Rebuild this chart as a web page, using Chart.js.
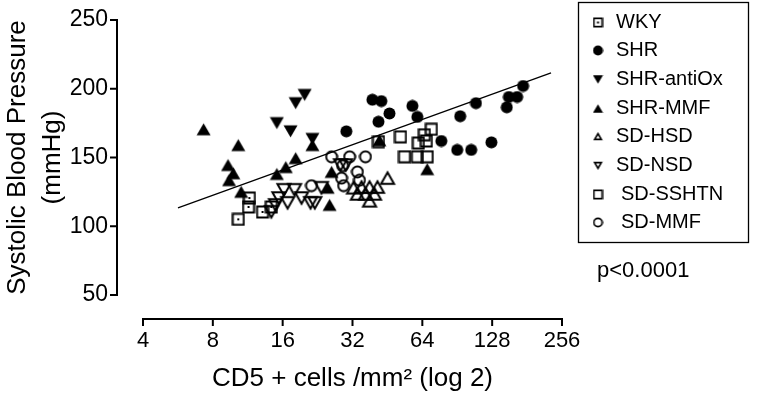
<!DOCTYPE html>
<html>
<head>
<meta charset="utf-8">
<script src="https://cdn.jsdelivr.net/npm/chart.js@4.4.1/dist/chart.umd.min.js"></script>
<style>
  html, body { margin: 0; padding: 0; background: #fff; }
  #wrap { width: 760px; height: 400px; }
</style>
</head>
<body>
<div id="wrap"><canvas id="chart" width="760" height="400"></canvas></div>
<script>
// groups, in legend order
const groups = ['WKY', 'SHR', 'SHR-antiOx', 'SHR-MMF', 'SD-HSD', 'SD-NSD', 'SD-SSHTN', 'SD-MMF'];

// CD5+ cells/mm2 (x) and systolic BP in mmHg (y) per group
const wkyX = [10.3, 11.5, 11.4, 13.1, 14.3];
const wkyY = [105, 120.5, 114, 110.4, 114];

const shrX = [30.1, 39.0, 42.6, 46.2, 41.4, 58.0, 60.9, 77.3, 93.2, 109, 90.5, 104, 127, 148, 151, 164, 174];
const shrY = [169, 192, 191, 182, 176, 187.5, 179.5, 162, 180, 189.5, 155.5, 155.5, 161, 186.5, 194, 194, 202];

const antiOxX = [15.1, 17.3, 18.2, 19.9, 21.5];
const antiOxY = [175, 169, 189.5, 195.5, 163.5];

const shrMmfX = [7.3, 10.3, 9.3, 9.8, 9.4, 10.6, 15.1, 16.5, 18.2, 21.5, 26.0, 25.0, 25.5, 41.8, 67.2];
const shrMmfY = [170.5, 159, 144.5, 138.5, 133.5, 125, 138, 143, 149.5, 159, 139.5, 128, 115.5, 162.5, 141.5];

const hsdX = [45.3, 41.0, 37.9, 35.0, 32.3, 33.6, 36.4, 39.8, 37.9];
const hsdY = [135, 128.5, 128.5, 128.5, 128, 123.5, 123.5, 123.5, 118.5];

const nsdX = [14.3, 14.9, 15.4, 16.2, 16.8, 18.0, 19.3, 21.1, 22.0, 23.5, 28.4, 29.9];
const nsdY = [110.5, 115.5, 120.5, 126.5, 117, 126.5, 120.5, 117, 117, 128, 144.5, 144.5];

const sshtnX = [41.4, 51.5, 53.6, 60.9, 67.2, 61.5, 66.6, 65.3, 70.0];
const sshtnY = [161.5, 165, 150.5, 150.5, 150.5, 160.5, 162, 166.5, 170.5];

const sdMmfX = [26.0, 31.1, 36.4, 29.0, 33.6, 28.7, 29.3, 34.3, 21.3];
const sdMmfY = [150.5, 150.5, 150.5, 144, 139.5, 135, 129.5, 133.5, 129.5];

// fitted line end points
const fitX = [5.66, 229.6];
const fitY = [113.3, 211.5];

const xTicks = [4, 8, 16, 32, 64, 128, 256];
const yTicks = [50, 100, 150, 200, 250];
const pValue = 'p<0.0001';

const FONT = "'Liberation Sans', Arial, sans-serif";

// marker glyphs drawn into small canvases
function makeMarker(kind, n) {
    const c = document.createElement('canvas');
    c.width = n; c.height = n;
    const g = c.getContext('2d');
    g.fillStyle = '#000';
    g.strokeStyle = '#000';
    g.lineWidth = n > 11 ? 2 : 1.7;
    const m = g.lineWidth;
    const tri = (up, inset) => {
        const w = n - 2 * inset, h = w * 0.87, top = (n - h) / 2;
        g.beginPath();
        if (up) { g.moveTo(n / 2, top); g.lineTo(n - inset, top + h); g.lineTo(inset, top + h); }
        else { g.moveTo(n / 2, top + h); g.lineTo(n - inset, top); g.lineTo(inset, top); }
        g.closePath();
    };
    switch (kind) {
        case 'squareDot':
            g.strokeRect(m / 2 + 0.5, m / 2 + 0.5, n - m - 1, n - m - 1);
            g.fillRect(n / 2 - 1, n / 2 - 1, 2, 2);
            break;
        case 'square':
            g.strokeRect(m / 2 + 0.5, m / 2 + 0.5, n - m - 1, n - m - 1);
            break;
        case 'disc':
            g.beginPath(); g.arc(n / 2, n / 2, n / 2 - 0.5, 0, Math.PI * 2); g.fill();
            break;
        case 'ring':
            g.beginPath(); g.arc(n / 2, n / 2, n / 2 - m / 2 - 0.5, 0, Math.PI * 2); g.stroke();
            break;
        case 'triUpFill': tri(true, 0.5); g.fill(); break;
        case 'triDownFill': tri(false, 0.5); g.fill(); break;
        case 'triUp': tri(true, m + 0.5); g.stroke(); break;
        case 'triDown': tri(false, m + 0.5); g.stroke(); break;
    }
    return c;
}

const kinds = ['squareDot', 'disc', 'triDownFill', 'triUpFill', 'triUp', 'triDown', 'square', 'ring'];
const plotSizes = [14, 13, 15, 15, 18, 18, 14, 14];
const plotMarks = kinds.map((k, i) => makeMarker(k, plotSizes[i]));
const legendMarks = kinds.map(k => makeMarker(k, 11));

const xs = [wkyX, shrX, antiOxX, shrMmfX, hsdX, nsdX, sshtnX, sdMmfX];
const ys = [wkyY, shrY, antiOxY, shrMmfY, hsdY, nsdY, sshtnY, sdMmfY];

const pointSets = groups.map((name, i) => ({
    type: 'scatter',
    label: name,
    data: xs[i].map((x, j) => ({ x: x, y: ys[i][j] })),
    pointStyle: plotMarks[i],
    pointRadius: 6,
    showLine: false
}));

const fitSet = {
    type: 'line',
    label: 'fit',
    data: fitX.map((x, j) => ({ x: x, y: fitY[j] })),
    borderColor: '#000',
    borderWidth: 1.3,
    pointRadius: 0,
    fill: false
};

// Prism-style detached axes
const axesPlugin = {
    id: 'detachedAxes',
    afterDraw(chart) {
        const { ctx, chartArea, scales: { x, y } } = chart;
        ctx.save();
        ctx.strokeStyle = '#000';
        ctx.lineWidth = 2;
        ctx.beginPath();
        const ax = chartArea.left - 26;
        ctx.moveTo(ax, y.getPixelForValue(yTicks[0]));
        ctx.lineTo(ax, y.getPixelForValue(yTicks[yTicks.length - 1]));
        yTicks.forEach(v => {
            const py = y.getPixelForValue(v);
            ctx.moveTo(ax + 1, py);
            ctx.lineTo(ax - 7, py);
        });
        const ay = chartArea.bottom + 24;
        ctx.moveTo(x.getPixelForValue(xTicks[0]), ay);
        ctx.lineTo(x.getPixelForValue(xTicks[xTicks.length - 1]), ay);
        xTicks.forEach(v => {
            const px = x.getPixelForValue(v);
            ctx.moveTo(px, ay - 1);
            ctx.lineTo(px, ay + 7);
        });
        ctx.stroke();
        ctx.restore();
    }
};

// boxed legend plus p-value
const legendBox = {
    id: 'legendBox',
    afterDraw(chart) {
        const ctx = chart.ctx;
        ctx.save();
        ctx.strokeStyle = '#000';
        ctx.lineWidth = 1.3;
        ctx.strokeRect(578.5, 2.5, 170, 240);
        ctx.font = '20px ' + FONT;
        ctx.fillStyle = '#000';
        ctx.textBaseline = 'middle';
        groups.forEach((name, i) => {
            const ly = 22 + i * 28.7;
            const mk = legendMarks[i];
            ctx.drawImage(mk, 598 - mk.width / 2, Math.round(ly - mk.height / 2));
            ctx.fillText(name, i >= 6 ? 621 : 616, ly);
        });
        ctx.font = '22px ' + FONT;
        ctx.fillText(pValue, 597, 271);
        ctx.restore();
    }
};

new Chart(document.getElementById('chart'), {
    data: { datasets: pointSets.concat([fitSet]) },
    options: {
        responsive: false,
        animation: false,
        events: [],
        layout: { padding: { left: 0, right: 198, top: 20, bottom: 6 } },
        plugins: {
            legend: { display: false },
            tooltip: { enabled: false }
        },
        scales: {
            x: {
                type: 'logarithmic',
                min: 4,
                max: 256,
                grid: { display: false },
                border: { display: false },
                afterBuildTicks: (scale) => { scale.ticks = xTicks.map(v => ({ value: v })); },
                afterFit: (scale) => { scale.height = 99; },
                ticks: {
                    autoSkip: false,
                    maxRotation: 0,
                    padding: 25,
                    color: '#000',
                    font: { family: FONT, size: 22 },
                    callback: (v) => String(v)
                },
                title: {
                    display: true,
                    text: 'CD5 + cells /mm² (log 2)',
                    color: '#000',
                    font: { family: FONT, size: 26 },
                    padding: 0
                }
            },
            y: {
                min: 50,
                max: 250,
                // invisible tick marks keep the labels clear of the plot without growing the top padding
                grid: { display: true, drawOnChartArea: false, drawTicks: true, tickLength: 35, tickColor: 'rgba(0,0,0,0)' },
                border: { display: false },
                afterFit: (scale) => { scale.width = 143; },
                ticks: {
                    stepSize: 50,
                    padding: 0,
                    color: '#000',
                    font: { family: FONT, size: 23 }
                },
                title: {
                    display: true,
                    text: ['Systolic Blood Pressure', '(mmHg)'],
                    color: '#000',
                    font: { family: FONT, size: 26, lineHeight: 1.35 },
                    padding: 0
                }
            }
        }
    },
    plugins: [axesPlugin, legendBox]
});
</script>
</body>
</html>
